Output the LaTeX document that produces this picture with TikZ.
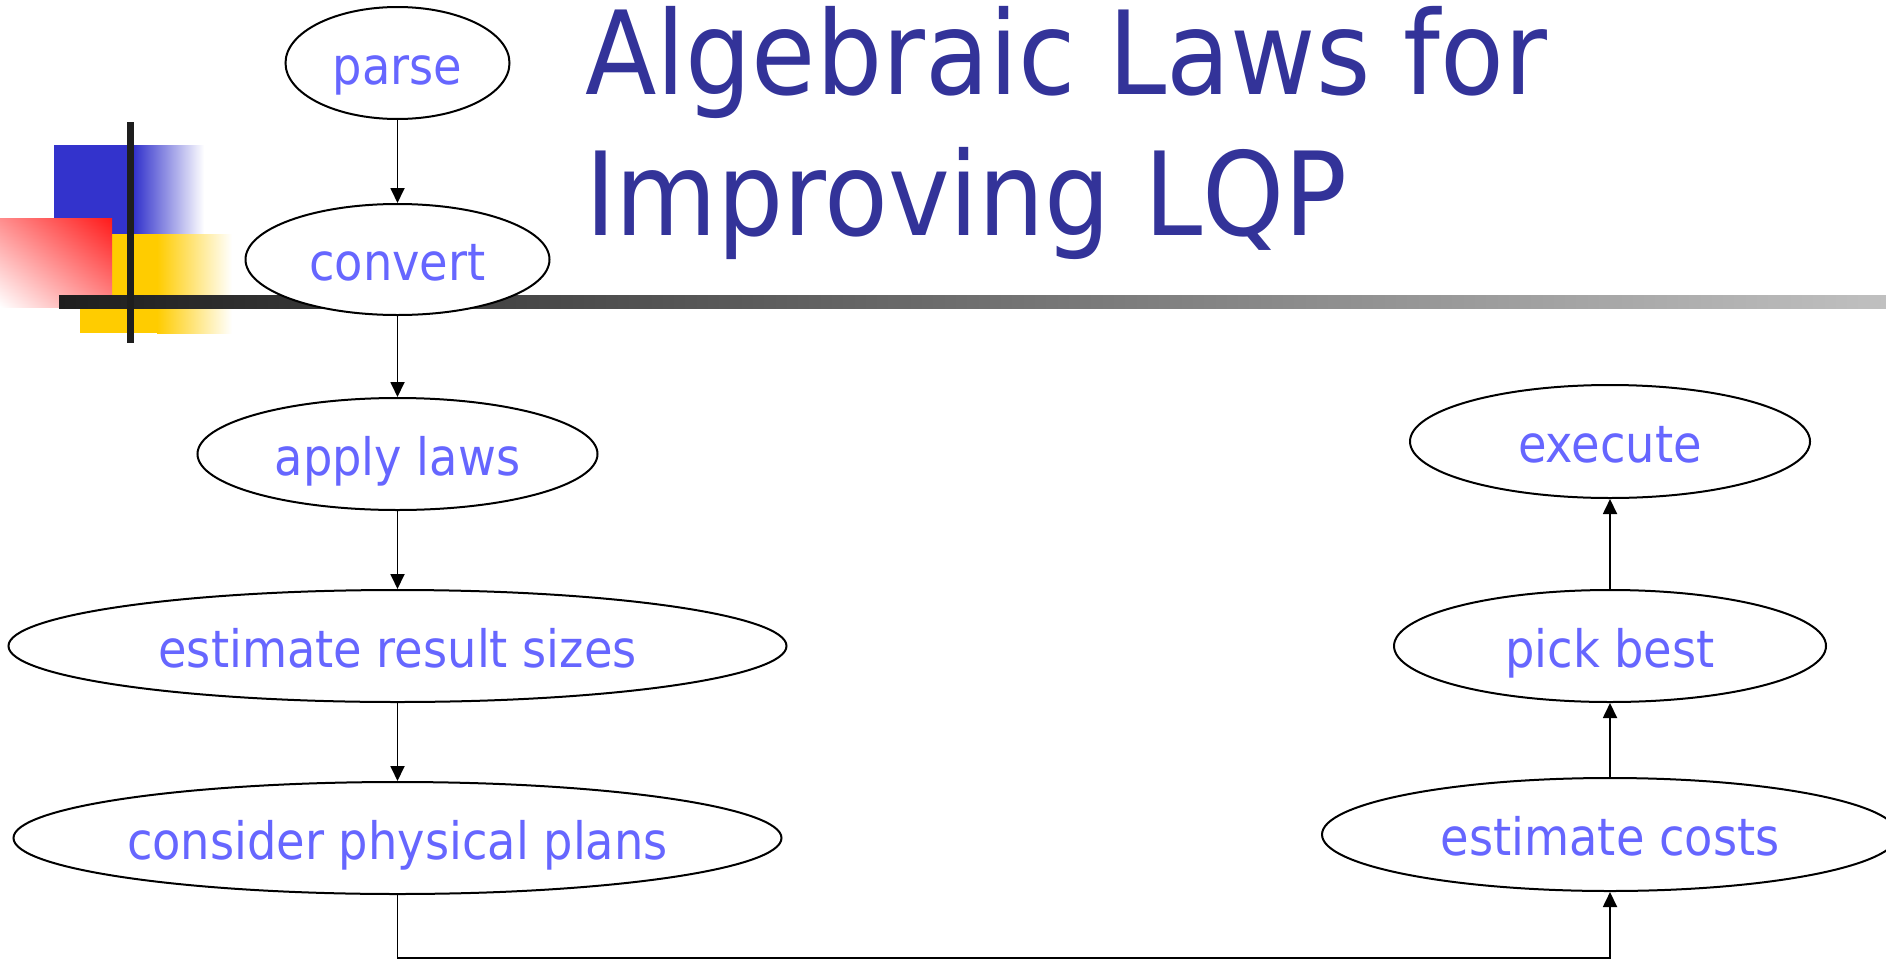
\documentclass[tikz,border=0pt]{standalone}
\usepackage{fontspec}
\setmainfont{DejaVu Sans Condensed}
\usetikzlibrary{shapes.geometric,arrows.meta,shadings}
\definecolor{titleblue}{RGB}{51,51,153}
\definecolor{nodetext}{RGB}{102,102,255}
\definecolor{decoblue}{RGB}{51,51,204}
\definecolor{decoyellow}{RGB}{255,204,0}
\definecolor{decored}{RGB}{255,26,26}
\definecolor{bardark}{RGB}{30,30,30}
\definecolor{barlight}{RGB}{192,192,192}
\begin{document}
\begin{tikzpicture}[x=1pt,y=-1pt,
  stage/.style={ellipse, draw=black, line width=2pt, fill=white, inner sep=0pt,
    text=nodetext, font=\fontsize{51.5}{51.5}\selectfont, text height=42pt, text depth=0pt},
  flow/.style={line width=1.8pt, -{Triangle[length=15pt,width=14pt]}},
  titletext/.style={anchor=base west, inner sep=0pt, text=titleblue,
    font=\fontsize{116}{116}\selectfont}
  ]
\useasboundingbox (0,0) rectangle (1886,961);

% decoration
\fill[decoblue] (54,145) rectangle (134,234);
\shade[left color=decoblue, right color=white] (134,145) rectangle (204,234);
\fill[decoyellow] (80,234) rectangle (157,333);
\shade[left color=decoyellow, right color=white] (157,234) rectangle (232,333);
\shade[upper right=decored, upper left=decored!50!white, lower right=decored!50!white, lower left=white] (0,218) rectangle (112,307);
\shade[left color=bardark, right color=barlight] (59,295) rectangle (1886,308);
\fill[bardark] (127,122) rectangle (134,343);

% title
\node[titletext] (t1) at (585,94.3) {Algebraic Laws for};
\node[titletext] (t2) at (585,235) {Improving LQP};

% stages
\node[stage, minimum width=224pt, minimum height=112pt] (parse) at (397.5,63) {parse};
\node[stage, minimum width=304pt, minimum height=111pt] (convert) at (397.5,259.5) {convert};
\node[stage, minimum width=400pt, minimum height=112pt] (apply) at (397.5,454) {apply laws};
\node[stage, minimum width=778pt, minimum height=112pt] (estsize) at (397.5,646) {estimate result sizes};
\node[stage, minimum width=768pt, minimum height=112pt] (consider) at (397.5,838) {consider physical plans};
\node[stage, minimum width=400pt, minimum height=113pt] (execute) at (1610,441.5) {execute};
\node[stage, minimum width=432pt, minimum height=112pt] (pick) at (1610,646) {pick best};
\node[stage, minimum width=576pt, minimum height=113pt] (estcost) at (1610,834.5) {estimate costs};

% connectors
\draw[flow] (parse) -- (convert);
\draw[flow] (convert) -- (apply);
\draw[flow] (apply) -- (estsize);
\draw[flow] (estsize) -- (consider);
\coordinate (c1) at (397.5,958);
\coordinate (c2) at (1610,958);
\draw[flow] (consider.south) -- (c1) -- (c2) -- (estcost.south);
\draw[flow] (estcost) -- (pick);
\draw[flow] (pick) -- (execute);
\end{tikzpicture}
\end{document}
